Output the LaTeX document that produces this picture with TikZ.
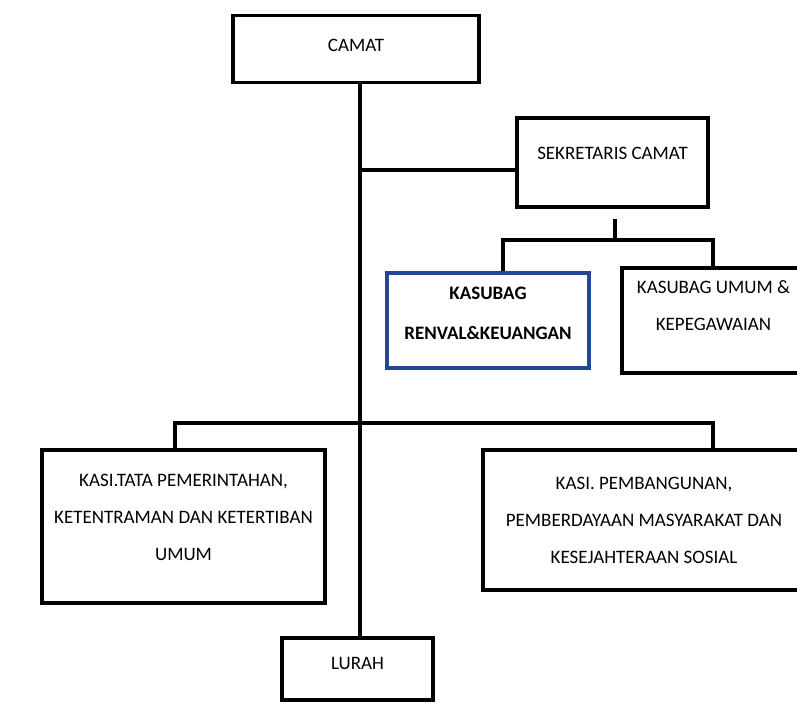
\documentclass[tikz,border=0pt]{standalone}
\usepackage{fontspec}
\setmainfont{Carlito}
\usetikzlibrary{positioning}
\definecolor{renvalblue}{RGB}{35,70,150}

\begin{document}
\begin{tikzpicture}[x=1pt, y=-1pt,
                    every node/.style = {font=\fontsize{19}{37}\selectfont,
                    align=center, inner sep=0pt},
                    unit/.style={draw, line width=3.5pt},
                    link/.style={draw, line width=3.2pt}]
  \useasboundingbox (0,0) rectangle (797,704);
  % boxes
  \node[unit, minimum width=246pt, minimum height=67pt, text depth=8pt] (camat) at (356,49) {CAMAT};
  \node[unit, minimum width=191pt, minimum height=89pt, text depth=19pt] (sek) at (612.5,162.5) {SEKRETARIS CAMAT};
  \node[unit, draw=renvalblue, minimum width=202pt, minimum height=95pt, text depth=14pt,
        font=\fontsize{19}{40}\selectfont\bfseries] (renval) at (488,320.5) {KASUBAG\\RENVAL\&KEUANGAN};
  \node[unit, minimum width=183pt, minimum height=105pt, text depth=30pt] (umum) at (713.5,320.5) {KASUBAG UMUM \&\\KEPEGAWAIAN};
  \node[unit, minimum width=283pt, minimum height=153pt, text depth=18pt] (tata) at (183.5,526.5) {KASI.TATA PEMERINTAHAN,\\KETENTRAMAN DAN KETERTIBAN\\UMUM};
  \node[unit, minimum width=322pt, minimum height=140pt] (pemb) at (644,520) {KASI. PEMBANGUNAN,\\PEMBERDAYAAN MASYARAKAT DAN\\KESEJAHTERAAN SOSIAL};
  \node[unit, minimum width=151pt, minimum height=62pt, text depth=12pt] (lurah) at (357.5,669) {LURAH};
  % lines
  \coordinate (j1) at (360,170);
  \coordinate (bus1) at (615,240);
  \coordinate (bus2) at (360,423);
  \draw[link] (camat.south -| j1) -- (lurah.north -| j1);
  \draw[link] (j1) -- (j1 -| sek.west);
  \draw[link] ([yshift=-10pt]sek.south -| bus1) -- (bus1);
  \draw[link] ([xshift=15pt]renval.north) |- (bus1) -| ([xshift=-0.5pt]umum.north);
  \draw[link] ([xshift=-8.5pt]tata.north) |- (bus2) -| ([xshift=69pt]pemb.north);
\end{tikzpicture}
\end{document}
